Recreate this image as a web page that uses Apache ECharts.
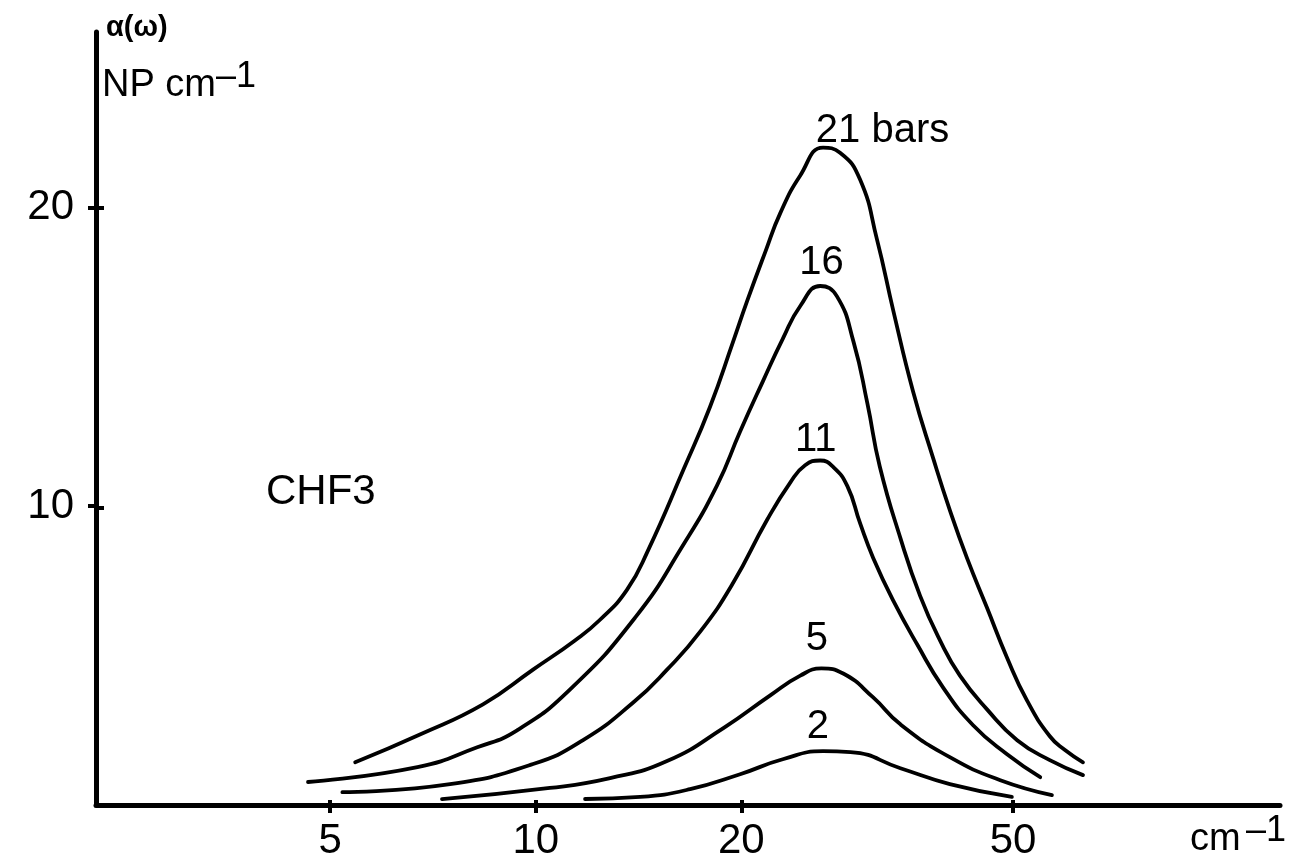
<!DOCTYPE html>
<html>
<head>
<meta charset="utf-8">
<script src="https://cdn.jsdelivr.net/npm/echarts/dist/echarts.min.js"></script>
<style>
html,body{margin:0;padding:0;background:#fff;}
#c{width:1295px;height:862px;}
</style>
</head>
<body>
<div id="c"></div>
<script>
// ---- tick labels ----
const xTickValues = [5, 10, 20, 50];
const yTickValues = [10, 20];

// ---- series (wavenumber cm-1, absorption Np cm-1) ----
const freq21  = [5.44, 6.78, 8.37, 9.91, 11.4, 12.42, 13.6, 14.61, 16.44, 18.0, 19.45, 20.4, 21.7, 22.8, 24.4, 26.35, 27.9, 29.85, 31.6, 33.4, 35.7, 38.2, 40.4, 42.8, 45.8, 49.0, 52.4, 56.6, 59.5, 63.3];
const alpha21 = [1.43, 2.37, 3.37, 4.53, 5.5, 6.2, 7.2, 8.53, 11.2, 13.33, 15.5, 16.87, 18.53, 19.8, 21.07, 22.0, 21.83, 20.93, 18.93, 16.53, 13.83, 11.6, 9.87, 8.27, 6.6, 4.93, 3.5, 2.3, 1.85, 1.43];

const freq16  = [4.64, 6.71, 8.21, 9.39, 11.23, 13.98, 16.44, 18.43, 19.92, 21.5, 23.0, 24.4, 26.1, 27.6, 29.2, 30.6, 31.9, 34.2, 36.55, 39.1, 41.8, 45.8, 50.7, 56.6, 63.3];
const alpha16 = [0.77, 1.27, 1.93, 2.5, 3.87, 6.27, 8.7, 10.7, 12.5, 14.17, 15.6, 16.7, 17.37, 17.03, 15.5, 13.43, 11.33, 8.93, 7.0, 5.5, 4.33, 3.2, 2.17, 1.5, 1.0];

const freq11  = [5.21, 7.49, 9.91, 11.73, 13.89, 15.57, 17.41, 19.45, 21.8, 23.6, 24.8, 26.1, 27.3, 28.6, 29.85, 31.2, 33.4, 36.2, 39.5, 43.7, 49.0, 54.8];
const alpha11 = [0.43, 0.7, 1.37, 2.17, 3.43, 4.53, 5.8, 7.43, 9.53, 10.8, 11.37, 11.53, 11.3, 10.67, 9.43, 8.27, 6.83, 5.37, 3.93, 2.67, 1.7, 0.93];

const freq5   = [7.29, 10.49, 12.85, 15.57, 18.9, 22.05, 24.4, 26.2, 28.2, 31.2, 34.2, 40.4, 47.9, 57.0];
const alpha5  = [0.2, 0.57, 0.9, 1.47, 2.6, 3.67, 4.33, 4.57, 4.4, 3.6, 2.7, 1.6, 0.83, 0.33];

const freq2   = [11.81, 14.22, 16.83, 19.92, 23.0, 26.35, 28.9, 34.2, 40.4, 49.8];
const alpha2  = [0.2, 0.27, 0.53, 1.03, 1.53, 1.8, 1.77, 1.23, 0.7, 0.27];

const curveNames = ['21 bars', '16', '11', '5', '2'];
// label anchor (data units) for each curve name
const labelFreq  = [32.2, 26.2, 25.7, 25.8, 25.9];
const labelAlpha = [22.57, 18.13, 12.23, 5.57, 2.6];

const X_MIN = 2.27, X_MAX = 123, Y_MIN = 0, Y_MAX = 25.87;

const FONT = "'Liberation Sans', Arial, sans-serif";
const lg = Math.log10;

const curves = [[freq21, alpha21], [freq16, alpha16], [freq11, alpha11], [freq5, alpha5], [freq2, alpha2]];

const series = curves.map(function (c, k) {
  return {
    type: 'line',
    name: curveNames[k],
    xAxisIndex: 0, yAxisIndex: 0,
    data: c[0].map(function (f, i) { return [lg(f), c[1][i]]; }),
    smooth: 0.5,
    symbol: 'none',
    silent: true,
    lineStyle: { color: '#000', width: 3.8, cap: 'round', join: 'round' },
    markPoint: {
      symbol: 'circle', symbolSize: 0, silent: true,
      data: [{ coord: [lg(labelFreq[k]), labelAlpha[k]] }],
      label: {
        show: true, position: 'inside', formatter: curveNames[k],
        color: '#000', fontSize: 40, fontFamily: FONT, verticalAlign: 'middle', align: 'center'
      }
    }
  };
});

const tickStyle = { color: '#000', width: 4 };

const option = {
  backgroundColor: '#fff',
  animation: false,
  grid: [
    { left: 96, right: 15, top: 32, bottom: 54, containLabel: false },
    { left: 96, right: 15, top: 32, bottom: 54, containLabel: false }
  ],
  xAxis: [
    {
      type: 'value', gridIndex: 0, min: lg(X_MIN), max: lg(X_MAX),
      axisLine: { show: true, onZero: false, lineStyle: { color: '#000', width: 5, cap: 'round' } },
      axisTick: { show: true, customValues: xTickValues.map(lg), length: 8, lineStyle: tickStyle },
      axisLabel: {
        show: true, customValues: xTickValues.map(lg),
        formatter: function (v) { return String(Math.round(Math.pow(10, v))); },
        fontSize: 42, margin: 15, color: '#000', fontFamily: FONT
      },
      splitLine: { show: false }
    },
    {
      type: 'value', gridIndex: 1, min: lg(X_MIN), max: lg(X_MAX),
      axisLine: { show: false },
      axisTick: { show: true, inside: true, customValues: xTickValues.map(lg), length: 8, lineStyle: tickStyle },
      axisLabel: { show: false },
      splitLine: { show: false }
    }
  ],
  yAxis: [
    {
      type: 'value', gridIndex: 0, min: Y_MIN, max: Y_MAX,
      axisLine: { show: true, onZero: false, lineStyle: { color: '#000', width: 5, cap: 'round' } },
      axisTick: { show: true, customValues: yTickValues, length: 8, lineStyle: tickStyle },
      axisLabel: { show: true, customValues: yTickValues, fontSize: 42, margin: 22, color: '#000', fontFamily: FONT },
      splitLine: { show: false }
    },
    {
      type: 'value', gridIndex: 1, min: Y_MIN, max: Y_MAX,
      axisLine: { show: false },
      axisTick: { show: true, inside: true, customValues: yTickValues, length: 8, lineStyle: tickStyle },
      axisLabel: { show: false },
      splitLine: { show: false }
    }
  ],
  graphic: [
    { type: 'text', x: 106, y: 28, silent: true,
      style: { text: 'α(ω)', font: "bold 29px " + FONT, fill: '#000', align: 'left', verticalAlign: 'middle' } },
    { type: 'text', x: 102, y: 86, silent: true,
      style: { text: 'NP cm', font: "38px " + FONT, fill: '#000', align: 'left', verticalAlign: 'middle' } },
    { type: 'text', x: 216, y: 77, silent: true,
      style: { text: '–1', font: "36px " + FONT, fill: '#000', align: 'left', verticalAlign: 'middle' } },
    { type: 'text', x: 266, y: 492, silent: true,
      style: { text: 'CHF3', font: "42px " + FONT, fill: '#000', align: 'left', verticalAlign: 'middle' } },
    { type: 'text', x: 1190, y: 840, silent: true,
      style: { text: 'cm', font: "38px " + FONT, fill: '#000', align: 'left', verticalAlign: 'middle' } },
    { type: 'text', x: 1246, y: 831, silent: true,
      style: { text: '–1', font: "36px " + FONT, fill: '#000', align: 'left', verticalAlign: 'middle' } }
  ],
  series: series
};

const chart = echarts.init(document.getElementById('c'), null, { renderer: 'canvas' });
chart.setOption(option);
</script>
</body>
</html>
